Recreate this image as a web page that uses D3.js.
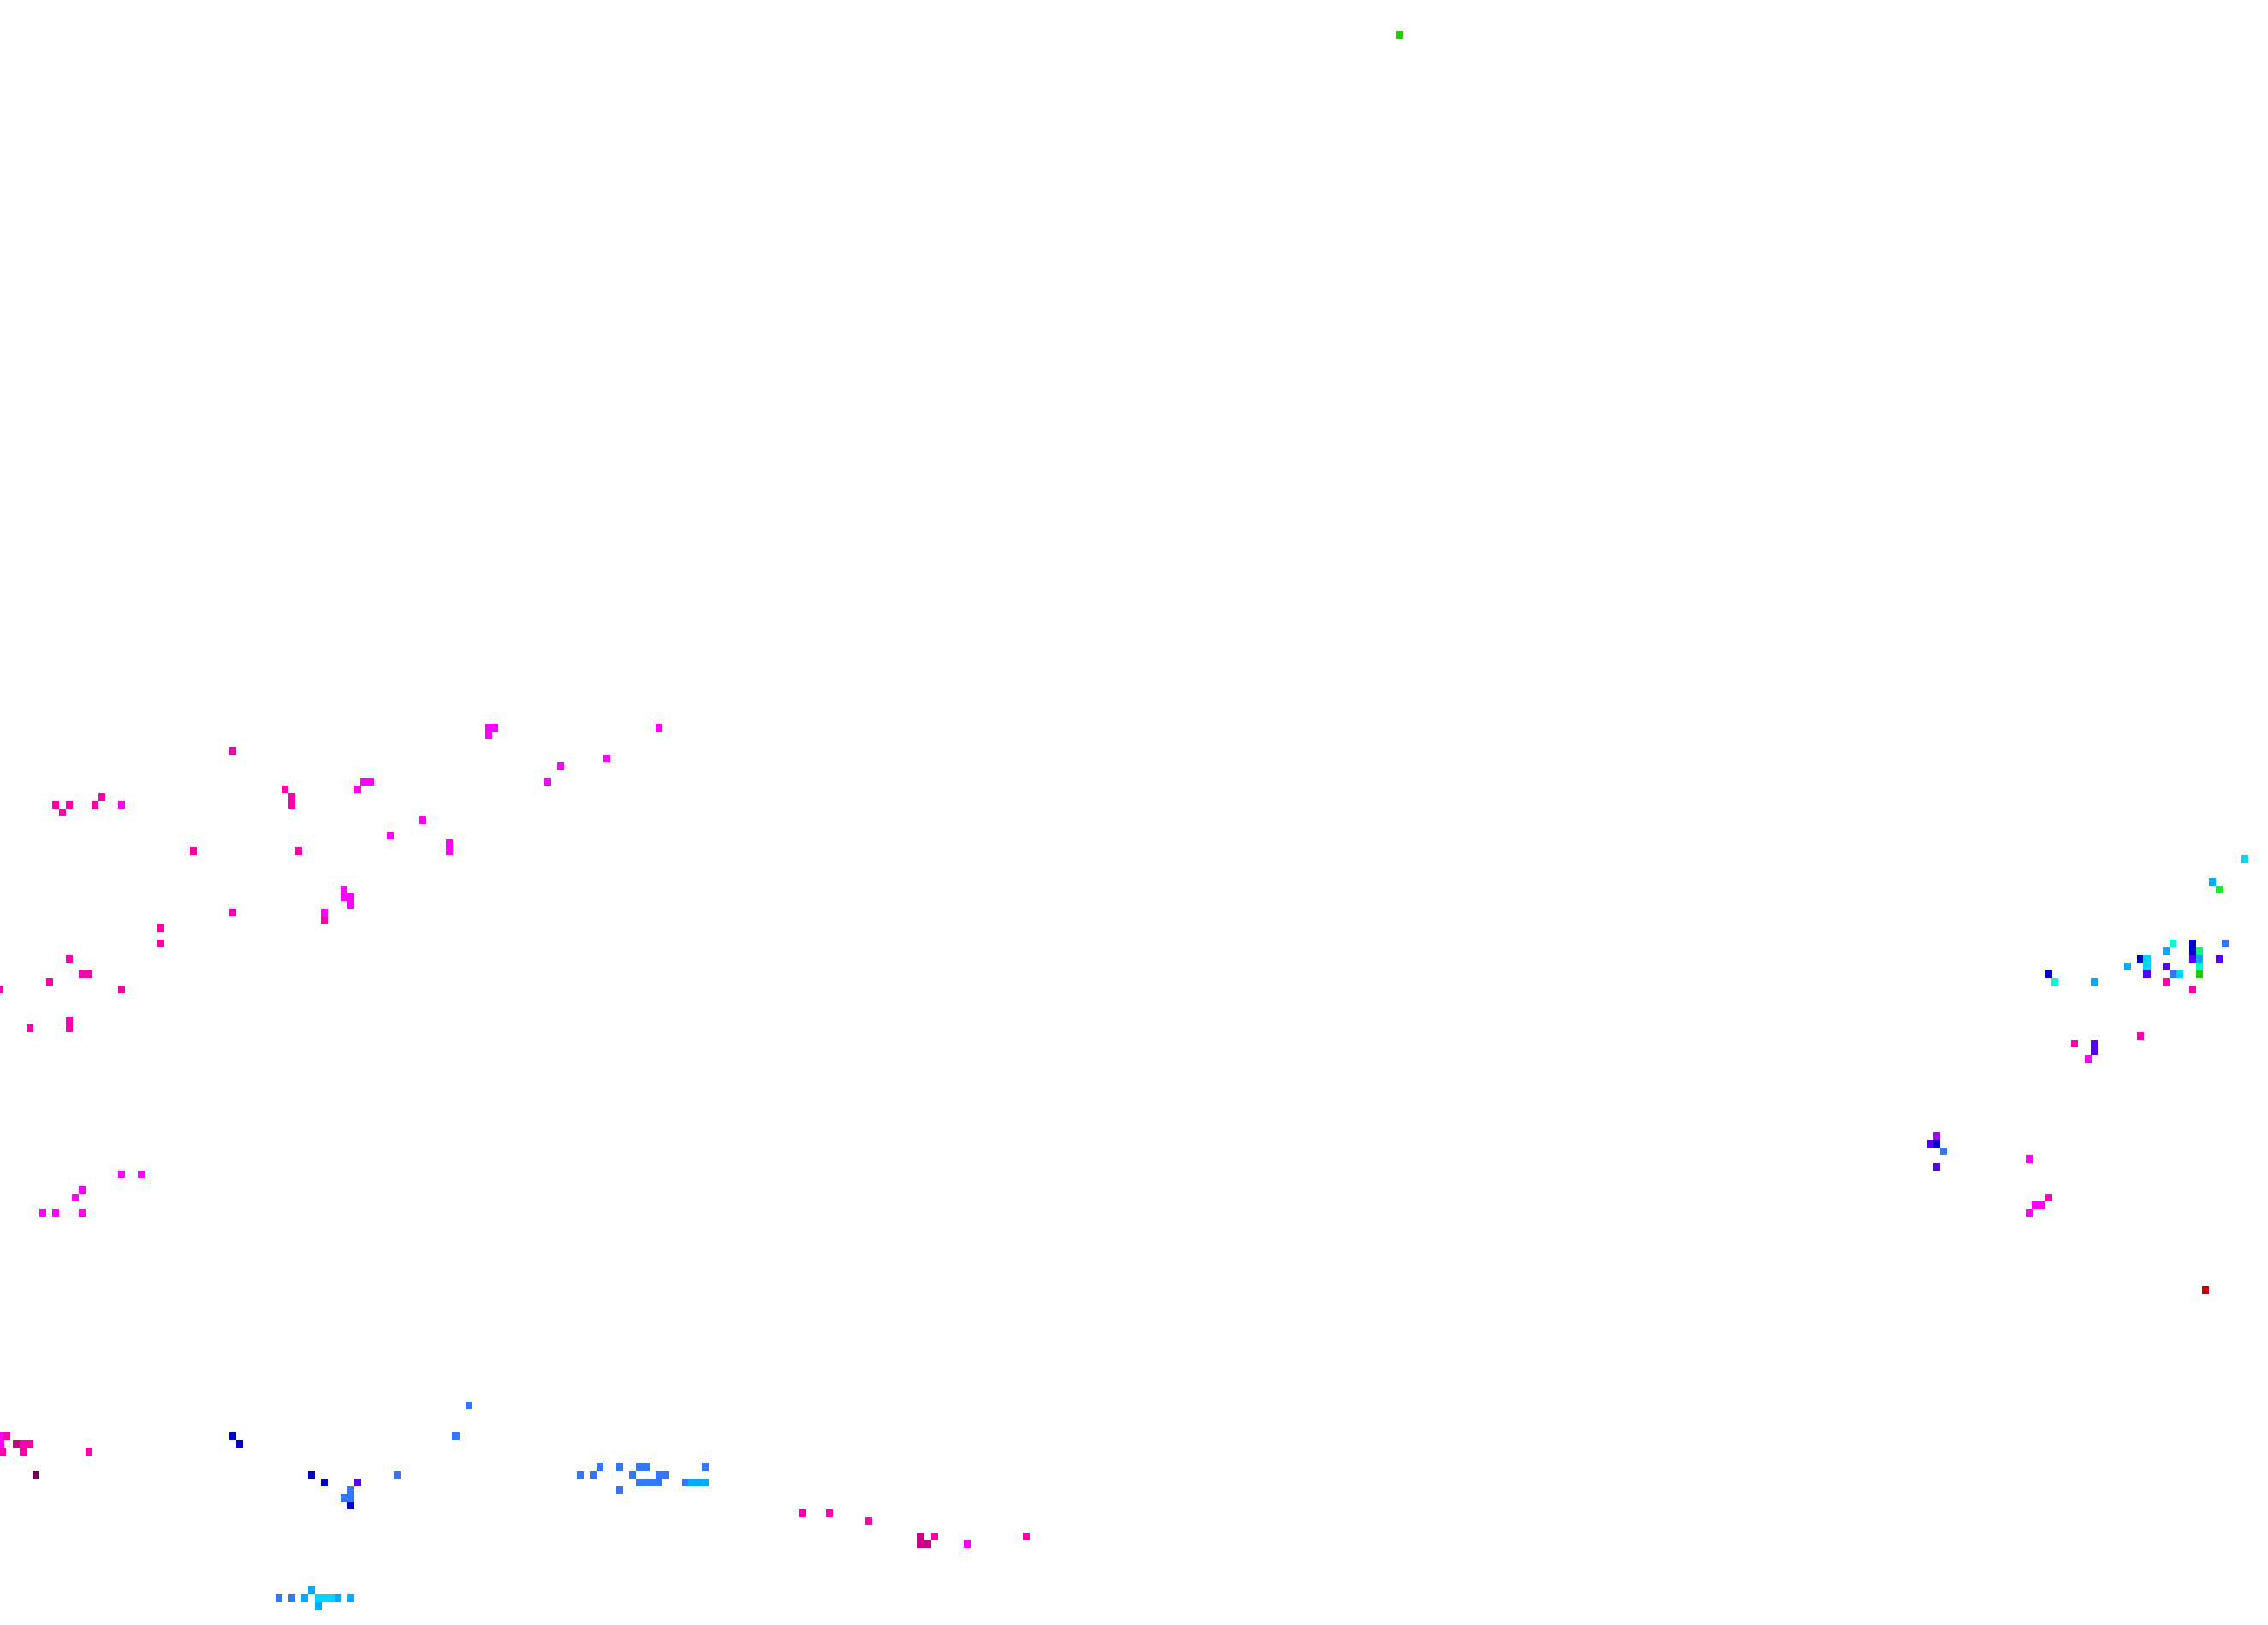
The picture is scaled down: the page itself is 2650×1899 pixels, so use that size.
<!DOCTYPE html>
<html>
<head>
<meta charset="utf-8">
<title>grid cells</title>
<script src="https://cdnjs.cloudflare.com/ajax/libs/d3/7.8.5/d3.min.js"></script>
<style>
    html, body { margin: 0; padding: 0; background: #ffffff; }
    svg { display: block; }
</style>
</head>
<body>
<div id="chart"></div>
<script>
// grid cells as [column, row, class]
var northCells = [
    [213, 4, "gr"]
];

var westCells = [
    [35, 97, "pk"],
    [43, 102, "pk"], [44, 103, "pk"], [44, 104, "pk"],
    [55, 101, "mg"], [56, 101, "mg"], [54, 102, "mg"],
    [64, 106, "mg"], [59, 108, "mg"],
    [8, 104, "pk"], [10, 104, "pk"], [9, 105, "pk"], [14, 104, "pk"], [15, 103, "pk"], [18, 104, "mg"],
    [29, 110, "pk"], [45, 110, "pk"],
    [52, 115, "mg"], [52, 116, "mg"], [53, 116, "mg"], [53, 117, "mg"],
    [49, 118, "mg"], [49, 119, "pk"],
    [35, 118, "pk"], [24, 120, "pk"], [24, 122, "pk"],
    [10, 124, "pk"], [12, 126, "pk"], [13, 126, "pk"], [7, 127, "pk"], [18, 128, "pk"], [-0.6, 128, "pk"],
    [4, 133, "pk"], [10, 132, "pk"], [10, 133, "pk"],
    [74, 94, "mg"], [75, 94, "mg"], [74, 95, "mg"], [100, 94, "mg"], [92, 98, "mg"],
    [85, 99, "mg"], [83, 101, "mg"], [68, 109, "mg"], [68, 110, "mg"],
    [18, 152, "mg"], [21, 152, "mg"], [12, 154, "mg"], [11, 155, "mg"],
    [6, 157, "mg"], [8, 157, "mg"], [12, 157, "mg"]
];

var southCells = [
    [-0.4, 186, "mg"], [-0.4, 187, "mg"], [0.5, 186, "pk"], [-0.2, 188, "pk"],
    [2, 187, "dp"], [3, 187, "pk"], [4, 187, "pk"], [3, 188, "pk"], [13, 188, "pk"], [5, 191, "mr"],
    [35, 186, "db"], [36, 187, "db"],
    [47, 191, "db"], [49, 192, "db"], [54, 192, "vi"], [53, 193, "bl"],
    [52, 194, "bl"], [53, 194, "bl"], [53, 195, "db"], [60, 191, "bl"],
    [42, 207, "bl"], [44, 207, "bl"], [46, 207, "az"], [47, 206, "az"],
    [48, 207, "cy"], [49, 207, "cy"], [50, 207, "cy"], [51, 207, "az"], [48, 208, "az"], [53, 207, "az"],
    [71, 182, "bl"], [69, 186, "bl"],
    [91, 190, "bl"], [94, 190, "bl"], [97, 190, "bl"], [98, 190, "bl"], [107, 190, "bl"],
    [88, 191, "bl"], [90, 191, "bl"], [96, 191, "bl"], [100, 191, "bl"], [101, 191, "bl"],
    [97, 192, "bl"], [98, 192, "bl"], [99, 192, "bl"], [100, 192, "bl"], [104, 192, "bl"],
    [105, 192, "az"], [106, 192, "az"], [107, 192, "az"],
    [94, 193, "bl"],
    [122, 196, "pk"], [126, 196, "pk"], [132, 197, "pk"],
    [140, 199, "dp"], [140, 200, "dp"], [141, 200, "dp"], [142, 199, "pk"],
    [147, 200, "mg"], [156, 199, "pk"]
];

var eastCells = [
    [342, 111, "cy"], [337, 114, "az"], [338, 115, "lm"],
    [331, 122, "aq"], [330, 123, "az"], [334, 122, "db"], [334, 123, "db"], [335, 123, "sp"],
    [334, 124, "vi"], [335, 124, "az"], [335, 125, "aq"], [335, 126, "gr"],
    [339, 122, "bl"], [338, 124, "vi"],
    [326, 124, "db"], [327, 124, "cy"], [327, 125, "cy"], [327, 126, "vi"],
    [330, 125, "vi"], [331, 126, "bl"], [332, 126, "cy"], [330, 127, "pk"], [334, 128, "pk"],
    [324, 125, "az"], [319, 127, "az"], [312, 126, "db"], [313, 127, "aq"],
    [326, 134, "pk"], [316, 135, "pk"], [319, 135, "vi"], [319, 136, "vi"], [318, 137, "mg"],
    [295, 147, "pu"], [294, 148, "vi"], [295, 148, "db"], [296, 149, "bl"], [295, 151, "vi"],
    [309, 150, "mg"], [312, 155, "pk"], [310, 156, "mg"], [311, 156, "mg"], [309, 157, "mg"],
    [336, 167, "rd"]
];

// class keys and the colours they get
var classKeys = ["db", "vi", "pu", "mg", "pk", "dp", "mr", "rd", "gr", "lm", "sp", "aq", "cy", "az", "bl"];
var classColors = ["#0000cc", "#5500ff", "#aa00ff", "#ff00ff", "#ff00aa", "#cc0088", "#770055", "#cc0000",
    "#22cc00", "#00ff22", "#00ff77", "#00ffcc", "#00d4ff", "#00aaff", "#3377ff"];

var gridCols = 346;
var gridRows = 211;

var width = 2650;
var height = 1899;

var svg = d3.select("#chart")
    .append("svg")
    .attr("width", width)
    .attr("height", height);

svg.append("rect")
    .attr("width", width)
    .attr("height", height)
    .attr("fill", "#ffffff");

var x = d3.scaleLinear().domain([0, gridCols]).range([0, width]);
var y = d3.scaleLinear().domain([0, gridRows]).range([0, height]);
var color = d3.scaleOrdinal().domain(classKeys).range(classColors);

var cellW = x(1) - x(0) + 0.4;
var cellH = y(1) - y(0);

var cells = [].concat(northCells, westCells, southCells, eastCells);

svg.append("g")
    .attr("shape-rendering", "crispEdges")
    .selectAll("rect")
    .data(cells)
    .enter()
    .append("rect")
    .attr("x", function (d) { return x(d[0]); })
    .attr("y", function (d) { return y(d[1]); })
    .attr("width", cellW)
    .attr("height", cellH)
    .attr("fill", function (d) { return color(d[2]); });
</script>
</body>
</html>
